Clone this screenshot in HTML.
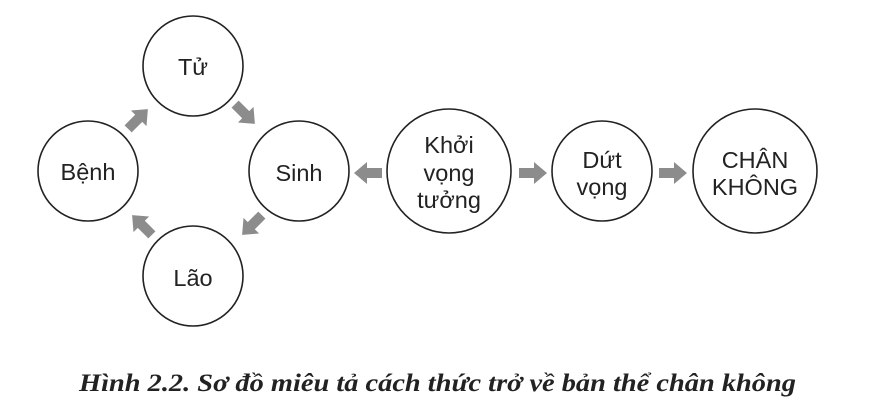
<!DOCTYPE html>
<html><head><meta charset="utf-8"><style>
html,body{margin:0;padding:0;background:#fff;}
svg{display:block;}
</style></head><body>
<svg width="873" height="414" viewBox="0 0 873 414" xmlns="http://www.w3.org/2000/svg">
<defs>
<polygon id="ar" points="-14,-5 1,-5 1,-11 14,0 1,11 1,5 -14,5" fill="#8c8c8c"/>
</defs>
<g fill="#fff" stroke="#222" stroke-width="1.6">
<circle cx="193" cy="66" r="50"/>
<circle cx="88" cy="171" r="50"/>
<circle cx="299" cy="171" r="50"/>
<circle cx="193" cy="276" r="50"/>
<circle cx="449" cy="171" r="62"/>
<circle cx="602" cy="171" r="50"/>
<circle cx="755" cy="171" r="62"/>
</g>
<use href="#ar" transform="translate(368,173) rotate(180)"/>
<use href="#ar" transform="translate(533,173)"/>
<use href="#ar" transform="translate(673,173)"/>
<use href="#ar" transform="translate(138,119) rotate(-45)"/>
<use href="#ar" transform="translate(245,114) rotate(45)"/>
<use href="#ar" transform="translate(252,225) rotate(135)"/>
<use href="#ar" transform="translate(142,225) rotate(-135)"/>
<g font-family="'Liberation Sans', 'DejaVu Sans', sans-serif" font-size="23.5" fill="#222" text-anchor="middle">
<text x="193" y="75">Tử</text>
<text x="88" y="180">Bệnh</text>
<text x="299" y="181">Sinh</text>
<text x="193" y="286">Lão</text>
<text x="449" y="153">Khởi</text>
<text x="449" y="181">vọng</text>
<text x="449" y="208">tưởng</text>
<text x="602" y="168">Dứt</text>
<text x="602" y="195">vọng</text>
<text x="755" y="168">CHÂN</text>
<text x="755" y="195">KHÔNG</text>
</g>
<text x="79" y="391" font-family="'Liberation Serif', serif" font-weight="bold" font-style="italic" font-size="25" fill="#222" textLength="717" lengthAdjust="spacingAndGlyphs">Hình 2.2. Sơ đồ miêu tả cách thức trở về bản thể chân không</text>
</svg>
</body></html>
